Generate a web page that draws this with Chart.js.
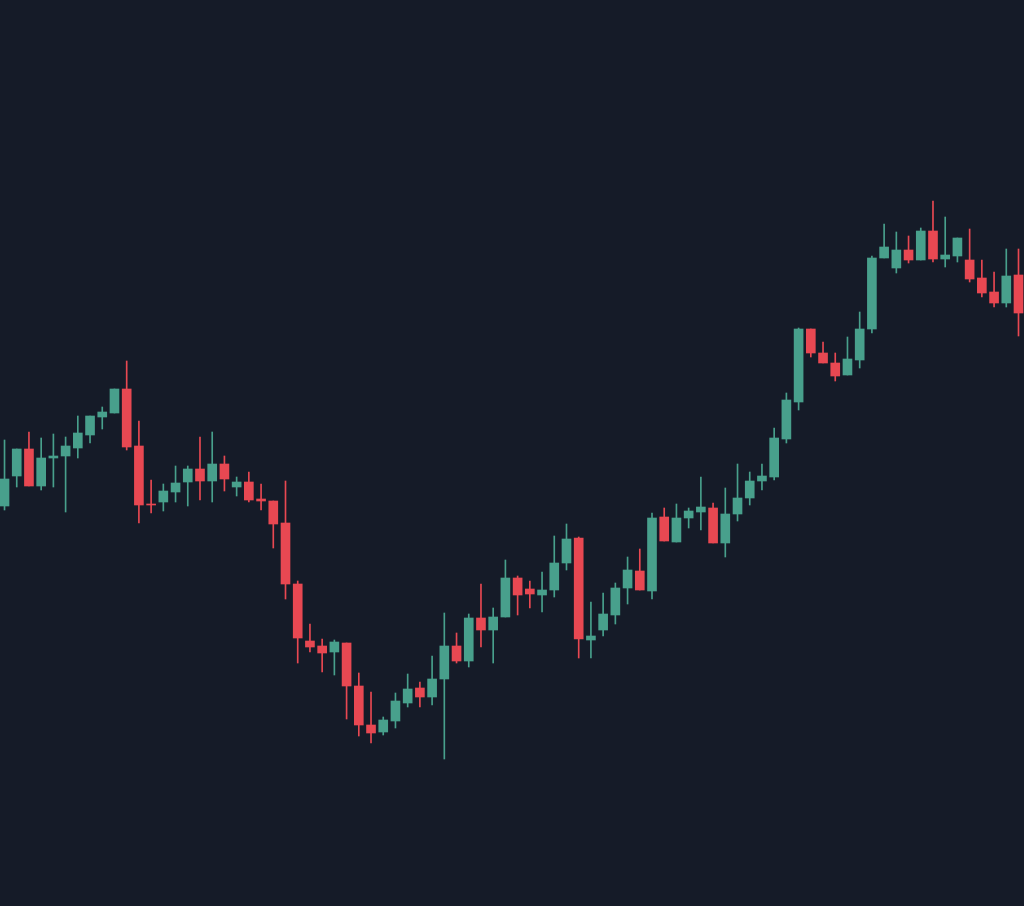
<!DOCTYPE html>
<html lang="en">
<head>
  <meta charset="UTF-8">
  <title>Candles</title>
  <script src="https://cdn.jsdelivr.net/npm/chart.js"></script>
  <style>
    html, body { margin: 0; padding: 0; background: #151b28; overflow: hidden; }
    #wrap { width: 1024px; height: 906px; position: relative; }
  </style>
</head>
<body>

<div id="wrap">
  <canvas id="candleChart"></canvas>
</div>

<script>
  // OHLC, one entry per candle (left to right)
  const opens  = [400,430,457,420,448,450,458,471,489,493,517,460,402,404,414,424,437,425,442,419,424,407,405,383,322,265,260,254,263,220,181,174,185,203,218,209,227,260,245,288,276,289,328,317,311,316,343,368,266,276,291,318,335,315,389,364,388,394,398,363,392,408,425,429,467,504,577,553,543,531,546,577,648,638,656,646,675,647,650,646,628,614,603,631];
  const highs  = [466,457,474,468,472,469,490,490,499,517,545,485,426,422,440,440,469,474,450,429,434,422,405,425,325,282,267,266,263,233,214,189,213,232,224,250,293,273,292,322,298,346,330,325,334,370,382,369,304,313,323,349,357,393,398,402,398,429,403,418,442,434,442,478,513,578,577,564,553,569,594,650,682,674,670,678,705,689,668,677,646,634,657,657];
  const lows   = [396,419,420,416,419,394,448,463,477,493,456,383,393,395,404,400,406,404,415,410,404,396,358,307,243,254,234,231,187,170,163,171,178,199,199,201,147,243,239,259,243,289,291,298,294,309,336,248,248,270,282,302,316,307,365,364,378,376,363,349,385,401,416,426,463,496,549,543,525,531,538,573,648,633,643,646,644,639,644,624,609,599,599,570];
  const closes = [427,457,420,448,450,460,473,490,494,517,459,401,401,415,423,437,425,442,427,424,406,405,382,322,268,259,253,264,220,181,173,186,205,217,209,227,260,245,288,276,289,328,311,312,316,343,367,267,270,292,318,336,316,388,365,388,395,399,363,392,408,425,430,468,506,577,553,543,530,547,577,648,659,656,646,675,647,651,668,627,613,603,630,593];

  const upColor = '#48a08c';
  const downColor = '#e84852';

  const colors = opens.map((o, i) => closes[i] >= o ? upColor : downColor);
  const bodies = opens.map((o, i) => ({ x: i, y: [o, closes[i]] }));
  const wicks = opens.map((o, i) => ({ x: i, y: [lows[i], highs[i]] }));

  new Chart(document.getElementById('candleChart'), {
    type: 'bar',
    data: {
      datasets: [
        {
          label: 'Body',
          data: bodies,
          backgroundColor: colors,
          borderWidth: 0,
          barThickness: 9,
          grouped: false,
          order: 1
        },
        {
          label: 'Wick',
          data: wicks,
          backgroundColor: colors,
          borderWidth: 0,
          barThickness: 1,
          grouped: false,
          order: 2
        }
      ]
    },
    options: {
      responsive: true,
      maintainAspectRatio: false,
      animation: false,
      layout: { padding: 0 },
      plugins: {
        legend: { display: false },
        tooltip: { enabled: false }
      },
      scales: {
        x: { type: 'linear', min: -0.37, max: 83.45, offset: false, grid: { offset: false }, display: false },
        y: { min: 0, max: 906, display: false }
      }
    }
  });
</script>
</body>
</html>
